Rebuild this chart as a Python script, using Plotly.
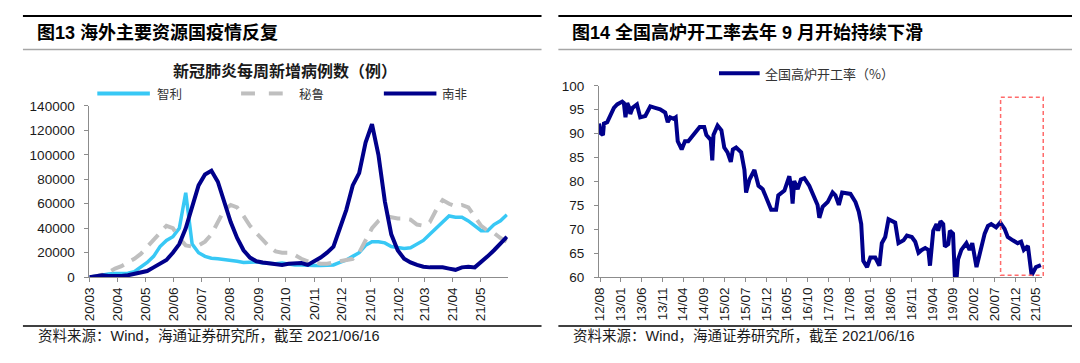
import plotly.graph_objects as go
import pandas as pd

# The page body keeps its default 8px margin, so the figure is 16px smaller than the window
# and every page position is shifted by 8px into figure coordinates.
W, H = 1064, 347
OFF = 8


def px(x):
    return (x - OFF) / W


def py(y):
    return 1 - (y - OFF) / H


# ---------------- Left chart data: weekly new COVID cases ----------------
covid_start = "2020-03-01"
chile = [0, 1000, 2000, 2500, 3000, 3000, 3200, 4500, 8000, 12000, 17000, 25000, 30000, 33000,
         40000, 69000, 27000, 20000, 17000, 15500, 15000, 14500, 13500, 13000, 12000, 12500,
         12500, 11500, 11000, 11000, 11500, 10500, 10000, 10000, 9500, 9500, 9500, 9500, 10000,
         12000, 14000, 17000, 20000, 26000, 29000, 29000, 28000, 25000, 24500, 23500, 24000,
         27000, 30000, 35000, 40000, 45000, 50000, 49000, 49000, 46000, 42000, 38000, 38000,
         43000, 46000, 51000]
peru = [0, 500, 2000, 4000, 7000, 9000, 12000, 15000, 19000, 25000, 30000, 36000, 42000, 40000,
        32000, 26000, 25000, 26000, 29000, 35000, 45000, 55000, 59000, 57000, 50000, 42000,
        36000, 30000, 25000, 21000, 20000, 20000, 18000, 15000, 13000, 12000, 11000, 11000,
        12000, 12500, 14000, 15000, 20000, 30000, 40000, 46000, 50000, 49000, 48000, 48000,
        47000, 43000, 42000, 45000, 55000, 63000, 60000, 58000, 59000, 57000, 50000, 42000,
        38000, 36000, 32000, 29000]
south_africa = [0, 1000, 1500, 1000, 800, 1000, 1500, 2500, 3500, 5000, 8000, 11000, 14000,
                20000, 27000, 40000, 58000, 75000, 84000, 87000, 78000, 62000, 45000, 32000,
                22000, 16000, 13000, 12000, 11500, 10500, 10000, 11000, 11000, 11500, 10000,
                13000, 16000, 20000, 25000, 40000, 55000, 75000, 85000, 110000, 125000, 100000,
                62000, 35000, 22000, 15000, 12000, 10000, 8500, 8000, 8000, 8000, 7000, 6000,
                8000, 8500, 8000, 12000, 17000, 22000, 27000, 33000]
covid_dates = pd.date_range(covid_start, periods=len(chile), freq="7D")
covid_tickvals = ["2020-03-01", "2020-04-01", "2020-05-01", "2020-06-01", "2020-07-01",
                  "2020-08-01", "2020-09-01", "2020-10-01", "2020-11-01", "2020-12-01",
                  "2021-01-01", "2021-02-01", "2021-03-01", "2021-04-01", "2021-05-01"]
covid_ticktext = ["20/03", "20/04", "20/05", "20/06", "20/07", "20/08", "20/09", "20/10",
                  "20/11", "20/12", "21/01", "21/02", "21/03", "21/04", "21/05"]

# ---------------- Right chart data: blast furnace operating rate ----------------
bf_dates = ["2012-07-24", "2012-08-05", "2012-08-22", "2012-08-29", "2012-09-22", "2012-10-16",
            "2012-11-10", "2012-12-04", "2013-01-10", "2013-01-22", "2013-02-03", "2013-02-16",
            "2013-03-03", "2013-03-10", "2013-03-27", "2013-04-28", "2013-05-22", "2013-06-28",
            "2013-08-04", "2013-09-09", "2013-10-15", "2013-11-21", "2013-12-10", "2013-12-28",
            "2014-01-21", "2014-02-06", "2014-02-21", "2014-03-22", "2014-04-15", "2014-05-09",
            "2014-06-15", "2014-07-01", "2014-08-01", "2014-09-03", "2014-09-19", "2014-10-21",
            "2014-11-01", "2014-11-10", "2014-12-10", "2015-01-07", "2015-01-28", "2015-02-21",
            "2015-03-17", "2015-04-01", "2015-04-25", "2015-06-01", "2015-06-25", "2015-07-07",
            "2015-08-01", "2015-09-06", "2015-10-06", "2015-11-06", "2015-12-13", "2016-01-07",
            "2016-02-12", "2016-02-28", "2016-04-13", "2016-05-19", "2016-06-04", "2016-06-12",
            "2016-06-24", "2016-07-19", "2016-08-12", "2016-09-06", "2016-10-12", "2016-11-18",
            "2016-12-12", "2016-12-25", "2017-01-18", "2017-02-24", "2017-04-01", "2017-04-22",
            "2017-05-17", "2017-06-10", "2017-08-10", "2017-09-16", "2017-10-10", "2017-10-28",
            "2017-11-03", "2017-11-12", "2017-12-10", "2018-01-03", "2018-02-08", "2018-03-10",
            "2018-03-28", "2018-04-22", "2018-05-16", "2018-07-04", "2018-07-28", "2018-09-03",
            "2018-09-28", "2018-11-03", "2018-11-28", "2018-12-22", "2019-01-15", "2019-02-09",
            "2019-03-04", "2019-03-16", "2019-04-09", "2019-05-03", "2019-05-15", "2019-06-01",
            "2019-06-21", "2019-07-03", "2019-07-28", "2019-08-09", "2019-09-01", "2019-09-15",
            "2019-09-27", "2019-10-08", "2019-11-01", "2019-11-19", "2019-12-08", "2019-12-31",
            "2020-01-20", "2020-02-20", "2020-03-26", "2020-04-20", "2020-05-14", "2020-06-07",
            "2020-07-13", "2020-08-12", "2020-09-13", "2020-10-06", "2020-11-12", "2020-12-18",
            "2021-01-12", "2021-02-01", "2021-03-03", "2021-03-15", "2021-03-30", "2021-05-01",
            "2021-06-06"]
bf_rate = [92.1, 90.1, 89.7, 92.1, 92.4, 93.7, 95.4, 96.1, 96.7, 96.4,
           93.4, 96.4, 95.4, 94.1, 95.4, 96.1, 93.4, 93.7, 95.7, 95.4,
           95.1, 94.4, 92.4, 93.4, 93.1, 93.4, 88.4, 86.7, 88.4, 88.4,
           89.7, 90.4, 91.4, 91.4, 89.7, 88.7, 84.4, 89.7, 91.7, 90.7,
           87.1, 86.1, 84.1, 86.7, 87.1, 86.1, 82.4, 77.7, 80.4, 82.4,
           79.1, 78.4, 75.7, 74.1, 74.1, 77.1, 78.1, 81.1, 78.4, 75.4,
           80.1, 78.4, 80.4, 80.7, 79.1, 76.4, 75.1, 72.4, 74.7, 75.7,
           77.7, 77.1, 75.1, 77.7, 77.4, 75.7, 73.7, 71.1, 67.1, 63.4,
           62.1, 64.1, 64.1, 62.4, 67.1, 68.4, 72.1, 71.4, 67.1, 67.7,
           68.7, 68.4, 67.4, 65.1, 65.7, 66.1, 65.7, 62.4, 69.7, 71.1,
           69.7, 71.7, 71.1, 66.4, 66.9, 69.7, 69.1, 59.7, 59.7, 63.7,
           65.7, 66.4, 67.1, 65.7, 67.1, 62.1, 66.4, 69.1, 70.7, 71.1,
           70.4, 71.4, 70.1, 68.4, 67.7, 67.1, 67.4, 65.7, 66.5, 63.7,
           60.4, 62.1, 62.5]
bf_tickvals = ["2012-08-01", "2013-01-01", "2013-06-01", "2013-11-01", "2014-04-01",
               "2014-09-01", "2015-02-01", "2015-07-01", "2015-12-01", "2016-05-01",
               "2016-10-01", "2017-03-01", "2017-08-01", "2018-01-01", "2018-06-01",
               "2018-11-01", "2019-04-01", "2019-09-01", "2020-02-01", "2020-07-01",
               "2020-12-01", "2021-05-01"]
bf_ticktext = ["12/08", "13/01", "13/06", "13/11", "14/04", "14/09", "15/02", "15/07", "15/12",
               "16/05", "16/10", "17/03", "17/08", "18/01", "18/06", "18/11", "19/04", "19/09",
               "20/02", "20/07", "20/12", "21/05"]

# ---------------- Text ----------------
left_title = "图13 海外主要资源国疫情反复"
right_title = "图14 全国高炉开工率去年 9 月开始持续下滑"
left_chart_title = "新冠肺炎每周新增病例数（例）"
series_names = ["智利", "秘鲁", "南非"]
right_series_name = "全国高炉开工率（%）"
source_text = "资料来源：Wind，海通证券研究所，截至 2021/06/16"

FONT = "Liberation Sans, Arial, Noto Sans CJK SC, sans-serif"
CJK = "Noto Sans CJK SC, sans-serif"
NAVY = "#00008B"
CYAN = "#38C8F5"
GRAY = "#BFBFBF"

fig = go.Figure()
fig.add_trace(go.Scatter(x=covid_dates, y=chile, mode="lines", name=series_names[0],
                         line=dict(color=CYAN, width=3.5), xaxis="x", yaxis="y"))
fig.add_trace(go.Scatter(x=covid_dates, y=peru, mode="lines", name=series_names[1],
                         line=dict(color=GRAY, width=4, dash="14px,9px"), xaxis="x", yaxis="y"))
fig.add_trace(go.Scatter(x=covid_dates, y=south_africa, mode="lines", name=series_names[2],
                         line=dict(color=NAVY, width=4), xaxis="x", yaxis="y"))
fig.add_trace(go.Scatter(x=bf_dates, y=bf_rate, mode="lines", name=right_series_name,
                         line=dict(color=NAVY, width=4), xaxis="x2", yaxis="y2"))

axis_common = dict(showgrid=False, zeroline=False, showline=True, linecolor="#8C8C8C",
                   linewidth=1, ticks="outside", ticklen=4, tickcolor="#8C8C8C",
                   tickfont=dict(family=FONT, size=13.5, color="#1A1A1A"))

fig.update_layout(
    width=W, height=H, autosize=False, margin=dict(l=0, r=0, t=0, b=0, pad=0),
    paper_bgcolor="white", plot_bgcolor="white", showlegend=False,
    xaxis=dict(domain=[px(82), px(504)], range=["2020-03-01", "2021-05-31"], type="date",
               tickmode="array", tickvals=covid_tickvals, ticktext=covid_ticktext,
               tickangle=-90, anchor="y", **axis_common),
    yaxis=dict(domain=[py(282), py(103)], range=[0, 140000], dtick=20000, tickformat="d",
               anchor="x", ticklabelstandoff=7, **axis_common),
    xaxis2=dict(domain=[px(596), px(1043)], range=["2012-07-24", "2021-06-16"], type="date",
                tickmode="array", tickvals=bf_tickvals, ticktext=bf_ticktext,
                tickangle=-90, anchor="y2", **axis_common),
    yaxis2=dict(domain=[py(282), py(82)], range=[60, 100], dtick=5,
                anchor="x2", ticklabelstandoff=7, **axis_common),
)

shapes = []
annotations = []
for x0, x1 in [(15, 538), (555, 1078)]:
    shapes.append(dict(type="line", xref="paper", yref="paper", x0=px(x0), x1=px(x1),
                       y0=py(9), y1=py(9), line=dict(color="#000000", width=2)))
    shapes.append(dict(type="line", xref="paper", yref="paper", x0=px(x0), x1=px(x1),
                       y0=py(44), y1=py(44), line=dict(color="#A6A6A6", width=1.5)))
    shapes.append(dict(type="line", xref="paper", yref="paper", x0=px(x0), x1=px(x1),
                       y0=py(333), y1=py(333), line=dict(color="#000000", width=1.5)))
    annotations.append(dict(text=source_text, xref="paper", yref="paper", x=px(x0 + 13),
                            y=py(343), xanchor="left", yanchor="middle", showarrow=False,
                            font=dict(family=FONT, size=14.5, color="#1A1A1A")))

annotations.append(dict(text="<b>" + left_title + "</b>", xref="paper", yref="paper",
                        x=px(27), y=py(26), xanchor="left", yanchor="middle", showarrow=False,
                        font=dict(family=FONT, size=18, color="#000000")))
annotations.append(dict(text="<b>" + right_title + "</b>", xref="paper", yref="paper",
                        x=px(567), y=py(26), xanchor="left", yanchor="middle", showarrow=False,
                        font=dict(family=FONT, size=18, color="#000000")))
annotations.append(dict(text="<b>" + left_chart_title + "</b>", xref="paper", yref="paper",
                        x=px(279), y=py(66), xanchor="center", yanchor="middle",
                        showarrow=False, font=dict(family=CJK, size=16, color="#1A1A1A")))

# manual legend (left)
legend_y = py(90)
shapes.append(dict(type="line", xref="paper", yref="paper", x0=px(90), x1=px(143),
                   y0=legend_y, y1=legend_y, line=dict(color=CYAN, width=4)))
for a, b in [(235, 249), (263, 277)]:
    shapes.append(dict(type="line", xref="paper", yref="paper", x0=px(a), x1=px(b),
                       y0=legend_y, y1=legend_y, line=dict(color=GRAY, width=4)))
shapes.append(dict(type="line", xref="paper", yref="paper", x0=px(379), x1=px(432),
                   y0=legend_y, y1=legend_y, line=dict(color=NAVY, width=4)))
for xl, name in [(148, series_names[0]), (291, series_names[1]), (436, series_names[2])]:
    annotations.append(dict(text=name, xref="paper", yref="paper", x=px(xl), y=legend_y,
                            xanchor="left", yanchor="middle", showarrow=False,
                            font=dict(family=CJK, size=12.5, color="#333333")))
# manual legend (right)
shapes.append(dict(type="line", xref="paper", yref="paper", x0=px(717), x1=px(758),
                   y0=py(69), y1=py(69), line=dict(color=NAVY, width=4)))
annotations.append(dict(text=right_series_name, xref="paper", yref="paper", x=px(761),
                        y=py(69), xanchor="left", yanchor="middle", showarrow=False,
                        font=dict(family=CJK, size=13, color="#333333")))

# red dashed highlight box
shapes.append(dict(type="rect", xref="paper", yref="paper", x0=px(1001), x1=px(1044),
                   y0=py(280), y1=py(94), line=dict(color="#FF6B6B", width=1.5, dash="4px,3px"),
                   fillcolor="rgba(0,0,0,0)"))

fig.update_layout(shapes=shapes, annotations=annotations)
fig.write_html("out.html", config={"displayModeBar": False})
